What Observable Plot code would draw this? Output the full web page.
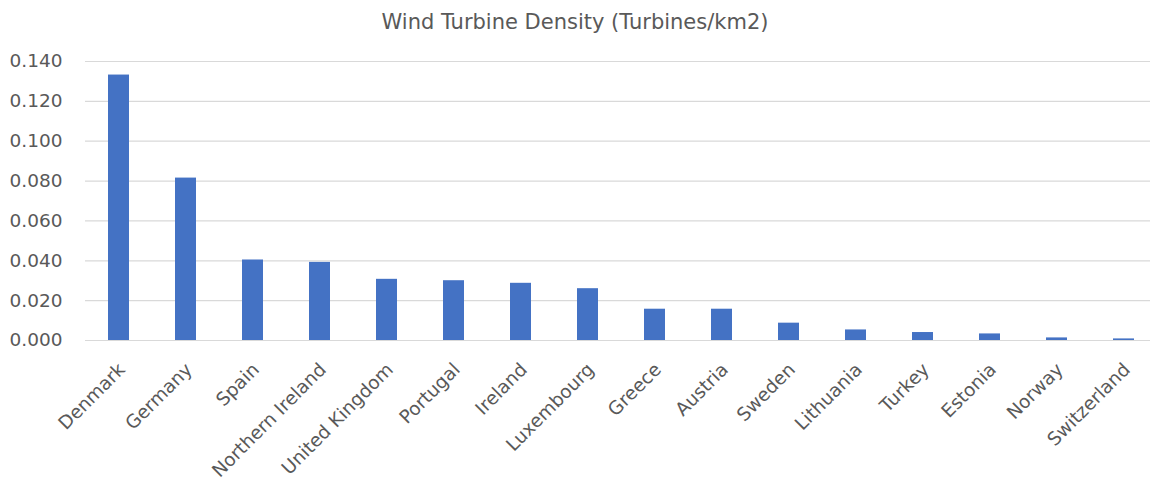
<!DOCTYPE html>
<html>
<head>
<meta charset="utf-8">
<script src="https://cdn.jsdelivr.net/npm/d3@7"></script>
<script src="https://cdn.jsdelivr.net/npm/@observablehq/plot@0.6"></script>
<style>
  html, body { margin: 0; padding: 0; background: #ffffff; }
  #title {
    width: 1150px; height: 40px; line-height: 44px;
    text-align: center; font-family: "DejaVu Sans", sans-serif;
    font-size: 21px; color: #595959;
  }
</style>
</head>
<body>
<div id="title">Wind Turbine Density (Turbines/km2)</div>
<div id="chart"></div>
<script>
const countries = ["Denmark", "Germany", "Spain", "Northern Ireland", "United Kingdom", "Portugal", "Ireland", "Luxembourg", "Greece", "Austria", "Sweden", "Lithuania", "Turkey", "Estonia", "Norway", "Switzerland"];
const density = [0.1332, 0.0815, 0.0404, 0.0392, 0.0307, 0.0300, 0.0287, 0.0260, 0.0157, 0.0157, 0.0087, 0.0053, 0.0040, 0.0033, 0.0013, 0.0008];
const yTicks = [0, 0.02, 0.04, 0.06, 0.08, 0.10, 0.12, 0.14];

const data = countries.map((c, i) => ({country: c, value: density[i]}));

const chart = Plot.plot({
  width: 1150,
  height: 447,
  marginLeft: 85,
  marginRight: 0,
  marginTop: 21,
  marginBottom: 147,
  style: {fontFamily: "DejaVu Sans", fontSize: "18.5px", color: "#595959", background: "white"},
  x: {domain: countries, range: [85, 1157], paddingInner: 0.69, paddingOuter: 0.345},
  y: {domain: [0, 0.14]},
  marks: [
    Plot.ruleY(yTicks, {stroke: "#d9d9d9", strokeWidth: 1.2}),
    Plot.barY(data, {x: "country", y: "value", fill: "#4472C4"}),
    Plot.axisY({ticks: yTicks, tickFormat: d => d.toFixed(3), tickSize: 0, tickPadding: 23, label: null, fontSize: 18.5}),
    Plot.axisX({tickRotate: -45, tickSize: 0, tickPadding: 26, label: null, fontSize: 18.5, dx: 3})
  ]
});
document.getElementById("chart").appendChild(chart);
</script>
</body>
</html>
